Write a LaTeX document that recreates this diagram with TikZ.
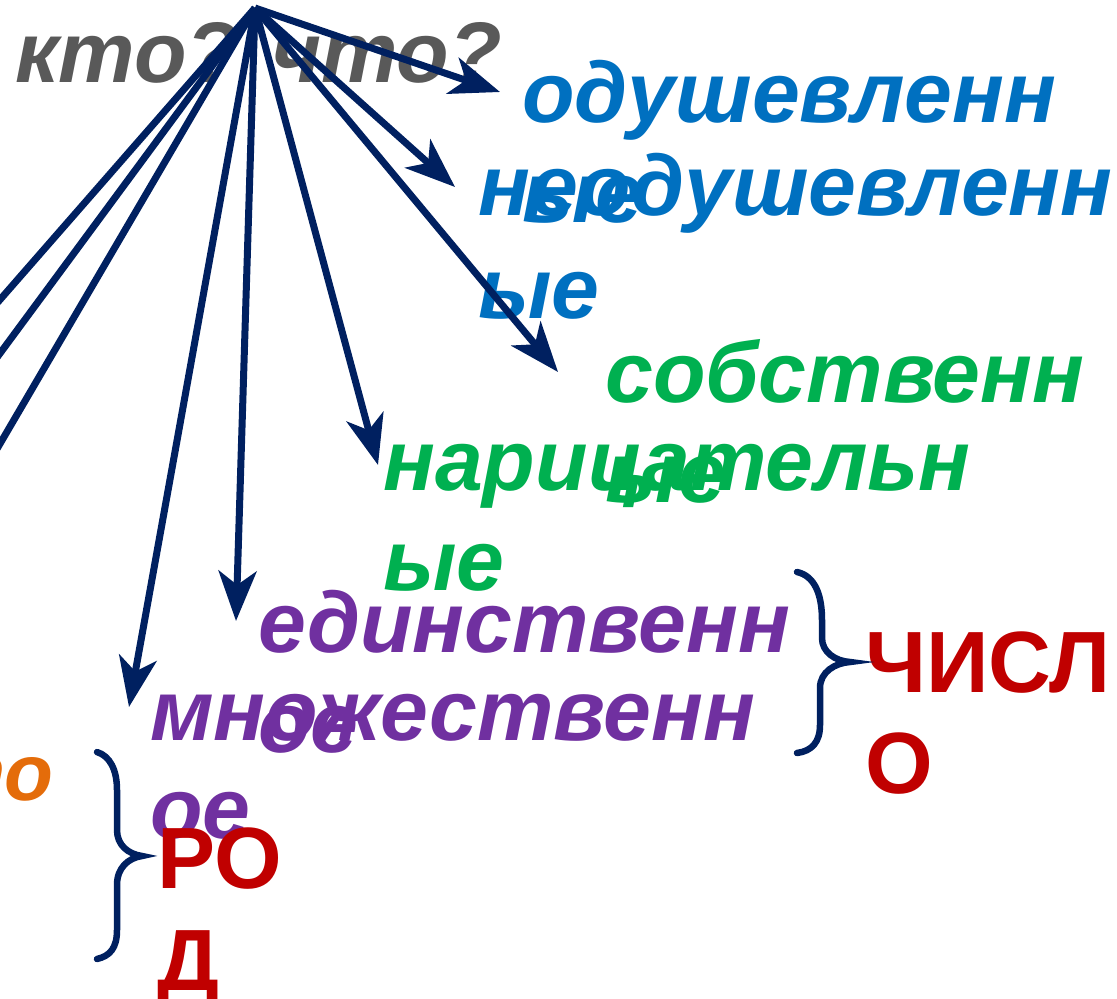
\documentclass[tikz,border=0pt]{standalone}
\usepackage{fontspec}
\setmainfont{Liberation Sans}
\usetikzlibrary{arrows.meta}
\definecolor{navy}{HTML}{002060}
\definecolor{mygrey}{HTML}{595959}
\definecolor{myblue}{HTML}{0070C0}
\definecolor{mygreen}{HTML}{00B050}
\definecolor{mypurple}{HTML}{7030A0}
\definecolor{myred}{HTML}{C00000}
\definecolor{myorange}{HTML}{E46C0A}
\begin{document}
\begin{tikzpicture}[x=1pt,y=-1pt,
  word/.style={inner sep=0pt, anchor=base west, font=\fontsize{86}{100}\selectfont\bfseries\itshape},
  capword/.style={inner sep=0pt, anchor=base west, text=myred, font=\fontsize{87}{100}\selectfont\bfseries},
  arr/.style={draw=navy, line width=7pt, -{Stealth[length=50pt,width=38pt,inset=14pt]}},
  plainline/.style={draw=navy, line width=7pt},
  bracestyle/.style={draw=navy, line width=6.5pt, line cap=round}]
\useasboundingbox (0,0) rectangle (1117,999);
\clip (0,0) rectangle (1117,999);
% texts
\node[word, text=mygrey] (q) at (15,82) {кто? что?};
\node[word, text=myblue] (odu1) at (522,122) {одушевленн};
\node[word, text=myblue] (odu2) at (522,222) {ые};
\node[word, text=myblue] (neo1) at (478,215) {неодушевленн};
\node[word, text=myblue] (neo2) at (478,318) {ые};
\node[word, text=mygreen] (sob1) at (605,402) {собственн};
\node[word, text=mygreen] (sob2) at (605,502) {ые};
\node[word, text=mygreen] (nar1) at (383,490) {нарицательн};
\node[word, text=mygreen] (nar2) at (383,590) {ые};
\node[word, text=mypurple] (ed1) at (258,652) {единственн};
\node[word, text=mypurple] (ed2) at (258,752) {ое};
\node[word, text=mypurple] (mn1) at (150,740) {множественн};
\node[word, text=mypurple] (mn2) at (150,838) {ое};
\node[word, text=myorange, font=\fontsize{80}{100}\selectfont\bfseries\itshape] (or) at (-66,800) {то};
\node[capword] (ch1) at (865,692) {ЧИСЛ};
\node[capword] (ch2) at (865,793) {О};
\node[capword] (rod1) at (157,888) {РО};
\node[capword] (rod2) at (157,990) {Д};
% connectors
\coordinate (apex) at (255,8);
\coordinate (t1) at (500,92);
\coordinate (t2) at (455,187);
\coordinate (t3) at (558,372);
\coordinate (t4) at (378,465);
\coordinate (t5) at (236,621);
\coordinate (t6) at (129,707);
\coordinate (l1) at (-30,334);
\coordinate (l2) at (-30,394);
\coordinate (l3) at (-30,495);
\draw[plainline] (apex) -- (l1);
\draw[plainline] (apex) -- (l2);
\draw[plainline] (apex) -- (l3);
\draw[arr] (apex) -- (t1);
\draw[arr] (apex) -- (t2);
\draw[arr] (apex) -- (t3);
\draw[arr] (apex) -- (t4);
\draw[arr] (apex) -- (t5);
\draw[arr] (apex) -- (t6);
% braces
\draw[bracestyle] (797,572) .. controls (815,576) and (822,595) .. (822,620) -- (822,638) .. controls (822,652) and (835,661) .. (850,662) .. controls (835,663) and (820,672) .. (820,688) -- (820,725) .. controls (820,742) and (812,751) .. (797,753);
\draw[bracestyle] (97,752) .. controls (110,756) and (117,770) .. (117,790) -- (117,830) .. controls (117,845) and (128,854) .. (142,856) .. controls (128,858) and (117,868) .. (117,885) -- (117,930) .. controls (117,948) and (110,956) .. (97,959);
\end{tikzpicture}
\end{document}
